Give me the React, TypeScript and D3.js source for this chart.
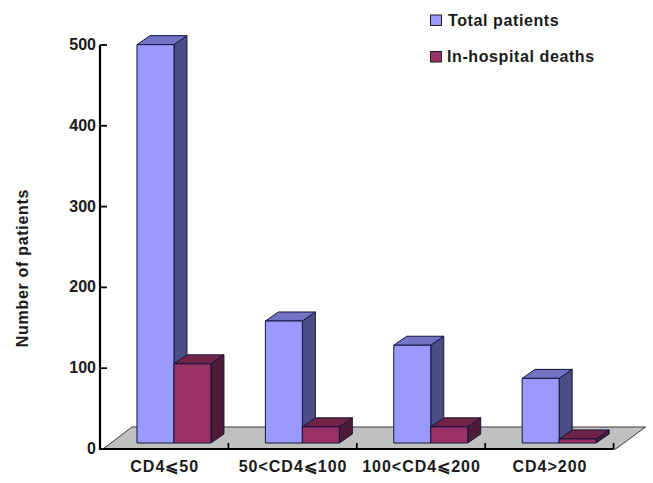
import React from "react";
import * as d3 from "d3";

const categories = ["CD4⩽50", "50<CD4⩽100", "100<CD4⩽200", "CD4>200"];
const seriesNames = ["Total patients", "In-hospital deaths"];
const totalPatients = [493, 151, 121, 80];
const hospitalDeaths = [98, 20, 20, 5];
const yTicks = [0, 100, 200, 300, 400, 500];

const frontColors = ["#9999ff", "#993366"];
const sideColors = ["#4d4d85", "#4f1c38"];
const topColors = ["#7373c4", "#6e2347"];
const edge = "#14143c";
const font = "'Liberation Sans', Arial, sans-serif";

const y = d3.scaleLinear().domain([0, 500]).range([449, 45]);
const x = d3.scaleBand<string>().domain(categories).range([100, 613.6]);
const depthX = 13;
const depthY = 9;
const baseLift = 6;

export default function App() {
  const bw = x.bandwidth();
  const inner = d3.scaleBand<number>().domain([0, 1]).range([bw * 0.288, bw * 0.864]);
  const series = [totalPatients, hospitalDeaths];
  const poly = (p: number[][]) => p.map((q) => q.join(",")).join(" ");
  const [fl, fr] = x.range();
  const yb = y(0);
  return (
    <svg width={653} height={483} style={{ position: "absolute", left: 0, top: 0, fontFamily: font, fontWeight: 700 }}>
      <rect width={653} height={483} fill="#fff" />
      <polygon
        points={poly([[fl + 3, yb], [fl + 32, yb - 22], [fr + 32, yb - 22], [fr + 2, yb]])}
        fill="#c0c0c0"
        stroke="#3a3a3a"
        strokeWidth={1}
      />
      {series.map((vals, s) =>
        categories.map((c, i) => {
          const x0 = (x(c) as number) + (inner(s) as number);
          const x1 = x0 + inner.bandwidth();
          const y0 = yb - baseLift;
          const yt = y(vals[i]) - baseLift;
          return (
            <g key={c + s} stroke={edge} strokeWidth={1} strokeLinejoin="round">
              <polygon fill={sideColors[s]} points={poly([[x1, y0], [x1 + depthX, y0 - depthY], [x1 + depthX, yt - depthY], [x1, yt]])} />
              <polygon fill={topColors[s]} points={poly([[x0, yt], [x0 + depthX, yt - depthY], [x1 + depthX, yt - depthY], [x1, yt]])} />
              <rect x={x0} y={yt} width={x1 - x0} height={y0 - yt} fill={frontColors[s]} />
            </g>
          );
        })
      )}
      <path d={`M${fl},${y(500)}V${yb}H${fr}`} fill="none" stroke="#000" strokeWidth={2.2} />
      {yTicks.map((t) => (
        <g key={t}>
          <line x1={fl} x2={fl + 7} y1={y(t)} y2={y(t)} stroke="#000" strokeWidth={1.8} />
          <text x={96} y={y(t) + 5} textAnchor="end" fontSize={16} fill="#1a1a1a">{t}</text>
        </g>
      ))}
      {[...categories.map((c) => x(c) as number), fr].slice(1).map((t) => (
        <line key={t} x1={t} x2={t} y1={yb} y2={yb - 6} stroke="#000" strokeWidth={1.8} />
      ))}
      {categories.map((c) => (
        <text key={c} x={(x(c) as number) + bw / 2 + 0.5} y={472} textAnchor="middle" fontSize={16} letterSpacing={1} fill="#1a1a1a">{c}</text>
      ))}
      <text transform="translate(28,268) rotate(-90)" textAnchor="middle" fontSize={16} letterSpacing={0.7} fill="#1a1a1a">Number of patients</text>
      {seriesNames.map((n, s) => (
        <g key={n}>
          <rect x={430.5} y={15 + s * 36.5} width={11} height={10.5} fill={frontColors[s]} stroke="#222" strokeWidth={1} />
          <text x={448 - s} y={25.5 + s * 36.5} fontSize={16} letterSpacing={0.6} fill="#1a1a1a">{n}</text>
        </g>
      ))}
    </svg>
  );
}
